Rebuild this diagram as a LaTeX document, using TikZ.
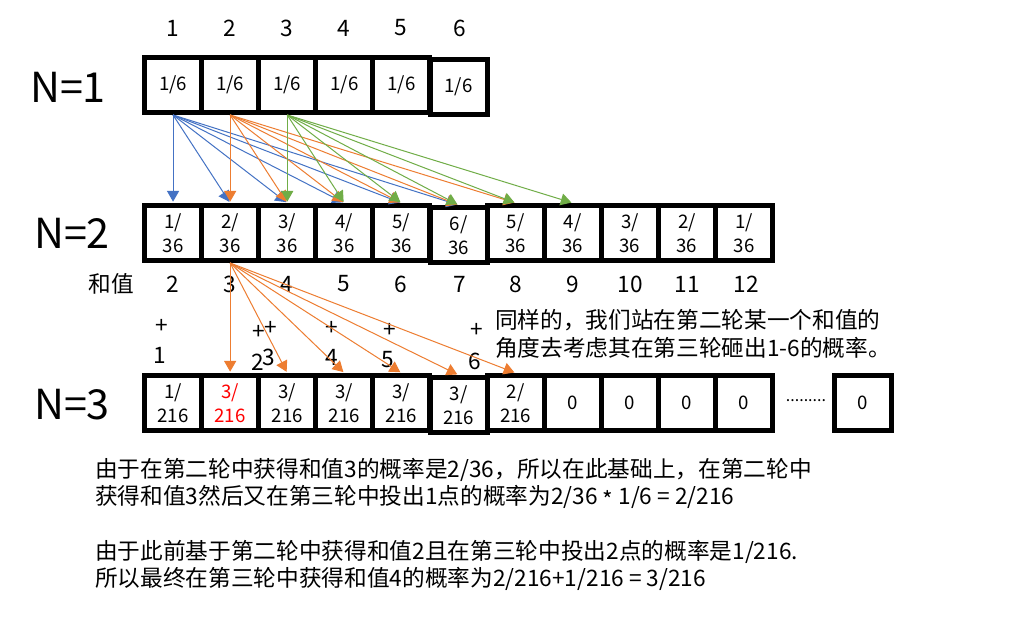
\documentclass[tikz,border=0pt]{standalone}
\usepackage{fontspec}
\setmainfont{Noto Sans CJK SC}
\usetikzlibrary{arrows.meta}
\definecolor{diceblue}{HTML}{4472C4}
\definecolor{diceorange}{HTML}{ED7D31}
\definecolor{dicegreen}{HTML}{70AD47}
\tikzset{
  cell/.style={draw, line width=3.75pt, minimum width=42.8pt, minimum height=41.25pt,
    inner sep=0pt, align=center, font=\fontsize{14}{18}\selectfont},
  rowlabel/.style={font=\fontsize{31}{31}\selectfont},
  num/.style={font=\fontsize{17}{17}\selectfont},
  note/.style={align=left, inner sep=0pt, font=\fontsize{17}{20.5}\selectfont},
  tip/.style={-{Triangle[length=8pt,width=9pt]}, line width=0.75pt, shorten >=1pt},
}
\begin{document}
\begin{tikzpicture}[x=0.75pt,y=-0.75pt]
      \path[fill=white] (0,0) rectangle (1032,634);
      \useasboundingbox (0,0) rectangle (1032,634);
      % first throw
      \draw
        (68,87) node[rowlabel] (n1){N=1}
        (173,28) node[num] (t1){1}
        (230,28) node[num] (t2){2}
        (287,28) node[num] (t3){3}
        (344,28) node[num] (t4){4}
        (401,28) node[num] (t5){5}
        (460,28) node[num] (t6){6}
        (173.05,85) node[cell] (a1){1/6}
        (230.15,85) node[cell] (a2){1/6}
        (287.25,85) node[cell] (a3){1/6}
        (344.35,85) node[cell] (a4){1/6}
        (401.45,85) node[cell] (a5){1/6}
        (458.55,87) node[cell] (a6){1/6};
      % second throw
      \draw
        (72,233) node[rowlabel] (n2){N=2}
        (173.05,233) node[cell] (b1){1/\\36}
        (230.15,233) node[cell] (b2){2/\\36}
        (287.25,233) node[cell] (b3){3/\\36}
        (344.35,233) node[cell] (b4){4/\\36}
        (401.45,233) node[cell] (b5){5/\\36}
        (515.65,233) node[cell] (b7){5/\\36}
        (572.75,233) node[cell] (b8){4/\\36}
        (629.85,233) node[cell] (b9){3/\\36}
        (686.95,233) node[cell] (b10){2/\\36}
        (744.05,233) node[cell] (b11){1/\\36}
        (458.55,235) node[cell] (b6){6/\\36};
      \draw
        (111,284) node[num] (s1){和值}
        (173,284) node[num] (s2){2}
        (230,284) node[num] (s3){3}
        (287,284) node[num] (s4){4}
        (344,284) node[num] (s5){5}
        (401,284) node[num] (s6){6}
        (460,284) node[num] (s7){7}
        (516,284) node[num] (s8){8}
        (573,284) node[num] (s9){9}
        (630,284) node[num] (s10){10}
        (687,284) node[num] (s11){11}
        (746,284) node[num] (s12){12};
      \draw
        (162,326) node[num] (p1){+}
        (160,355) node[num] (d1){1}
        (259,332) node[num] (p2){+}
        (258,362) node[num] (d2){2}
        (271,328) node[num] (p3){+}
        (269,357) node[num] (d3){3}
        (332,328) node[num] (p4){+}
        (332,357) node[num] (d4){4}
        (390,330) node[num] (p5){+}
        (388,360) node[num] (d5){5}
        (477,330) node[num] (p6){+}
        (475,361) node[num] (d6){6};
      \node[note, anchor=west] (side) at (495,334)
        {同样的，我们站在第二轮某一个和值的\\角度去考虑其在第三轮砸出1-6的概率。};
      % third throw
      \draw
        (72,405) node[rowlabel] (n3){N=3}
        (173.05,403) node[cell] (c1){1/\\216}
        (230.15,403) node[cell, text=red] (c2){3/\\216}
        (287.25,403) node[cell] (c3){3/\\216}
        (344.35,403) node[cell] (c4){3/\\216}
        (401.45,403) node[cell] (c5){3/\\216}
        (515.65,403) node[cell] (c7){2/\\216}
        (572.75,403) node[cell] (c8){0}
        (629.85,403) node[cell] (c9){0}
        (686.95,403) node[cell] (c10){0}
        (744.05,403) node[cell] (c11){0}
        (458.55,405) node[cell] (c6){3/\\216}
        (806,401) node[font=\fontsize{12}{12}\selectfont] (dots){.........}
        (863,403) node[cell] (c12){0};
      \node[note, anchor=west] (text1) at (95,483.5)
        {由于在第二轮中获得和值3的概率是2/36，所以在此基础上，在第二轮中\\获得和值3然后又在第三轮中投出1点的概率为2/36 \raisebox{-0.35ex}{*} 1/6 = 2/216};
      \node[note, anchor=west] (text2) at (95,565.5)
        {由于此前基于第二轮中获得和值2且在第三轮中投出2点的概率是1/216.\\所以最终在第三轮中获得和值4的概率为2/216+1/216 = 3/216};
      \begin{scope}[tip, diceblue]
        \draw (a1.south) to (b1.north);
        \draw (a1.south) to (b2.north);
        \draw (a1.south) to (b3.north);
        \draw (a1.south) to (b4.north);
        \draw (a1.south) to (b5.north);
        \draw (a1.south) to (b6.north);
      \end{scope}
      \begin{scope}[tip, diceorange]
        \draw (a2.south) to (b2.north);
        \draw (a2.south) to (b3.north);
        \draw (a2.south) to (b4.north);
        \draw (a2.south) to (b5.north);
        \draw (a2.south) to (b6.north);
        \draw (a2.south) to (b7.north);
      \end{scope}
      \begin{scope}[tip, dicegreen]
        \draw (a3.south) to (b3.north);
        \draw (a3.south) to (b4.north);
        \draw (a3.south) to (b5.north);
        \draw (a3.south) to (b6.north);
        \draw (a3.south) to (b7.north);
        \draw (a3.south) to (b8.north);
      \end{scope}
      \begin{scope}[tip, diceorange]
        \draw (b2.south) to (c2.north);
        \draw (b2.south) to (c3.north);
        \draw (b2.south) to (c4.north);
        \draw (b2.south) to (c5.north);
        \draw (b2.south) to (c6.north);
        \draw (b2.south) to (c7.north);
      \end{scope}
    \end{tikzpicture}
\end{document}
